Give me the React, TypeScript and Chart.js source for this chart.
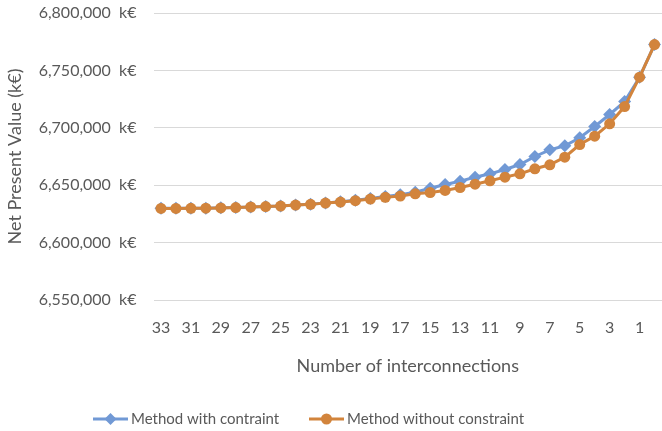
import React, { useEffect, useRef } from "react";
import { Chart, registerables } from "chart.js";

Chart.register(...registerables);

const categories = [
  "33", "32", "31", "30", "29", "28", "27", "26", "25", "24", "23", "22",
  "21", "20", "19", "18", "17", "16", "15", "14", "13", "12", "11", "10",
  "9", "8", "7", "6", "5", "4", "3", "2", "1", "0",
];

const withConstraint = [
  6630000, 6630000, 6630000, 6630000, 6630300, 6630600, 6631100, 6631500,
  6631900, 6632800, 6633500, 6634600, 6635600, 6636900, 6638500, 6640100,
  6641700, 6643900, 6647400, 6650600, 6653500, 6657000, 6659900, 6663700,
  6668000, 6675000, 6680800, 6684300, 6691300, 6701100, 6711600, 6722900,
  6744100, 6772500,
];

const withoutConstraint = [
  6629800, 6629800, 6629900, 6630000, 6630200, 6630500, 6631000, 6631400,
  6631800, 6632700, 6633300, 6634400, 6635300, 6636500, 6637900, 6639400,
  6640500, 6642500, 6643600, 6645400, 6648000, 6650900, 6653800, 6657000,
  6659900, 6664300, 6667800, 6674400, 6685400, 6692700, 6703500, 6718500,
  6744100, 6772500,
];

const seriesNames = ["Method with contraint", "Method without constraint"];
const yTitle = "Net Present Value (k\u20ac)";
const xTitle = "Number of interconnections";

const BLUE = "#7199D5";
const ORANGE = "#D2843C";
const TEXT = "#595959";
const FONT = "Lato, sans-serif";

const legendPlugin = {
  id: "customLegend",
  afterDraw(chart: any) {
    const ctx = chart.ctx;
    const y = 419;
    const items = [
      { x: 93, color: BLUE, style: "diamond", text: seriesNames[0] },
      { x: 309, color: ORANGE, style: "circle", text: seriesNames[1] },
    ];
    ctx.save();
    for (const it of items) {
      ctx.strokeStyle = it.color;
      ctx.lineWidth = 3;
      ctx.beginPath();
      ctx.moveTo(it.x, y);
      ctx.lineTo(it.x + 35, y);
      ctx.stroke();
      ctx.fillStyle = it.color;
      const cx = it.x + 17.5;
      ctx.beginPath();
      if (it.style === "circle") {
        ctx.arc(cx, y, 5.5, 0, Math.PI * 2);
      } else {
        ctx.moveTo(cx, y - 6);
        ctx.lineTo(cx + 6, y);
        ctx.lineTo(cx, y + 6);
        ctx.lineTo(cx - 6, y);
        ctx.closePath();
      }
      ctx.fill();
      ctx.fillStyle = TEXT;
      ctx.font = `15px ${FONT}`;
      ctx.textBaseline = "middle";
      ctx.textAlign = "left";
      ctx.fillText(it.text, it.x + 38, y);
    }
    ctx.restore();
  },
};

export default function App() {
  const ref = useRef<HTMLCanvasElement>(null);

  useEffect(() => {
    if (!ref.current) return;
    const chart = new Chart(ref.current, {
      type: "line",
      data: {
        labels: categories,
        datasets: [
          {
            label: seriesNames[0],
            data: withConstraint,
            borderColor: BLUE,
            backgroundColor: BLUE,
            borderWidth: 3,
            pointStyle: "rectRot",
            pointRadius: 6.5,
            pointBorderWidth: 0,
            pointBackgroundColor: BLUE,
            order: 2,
            tension: 0,
            clip: false,
          },
          {
            label: seriesNames[1],
            data: withoutConstraint,
            borderColor: ORANGE,
            backgroundColor: ORANGE,
            borderWidth: 3,
            pointStyle: "circle",
            pointRadius: 5.5,
            pointBorderWidth: 0,
            pointBackgroundColor: ORANGE,
            order: 1,
            tension: 0,
            clip: false,
          },
        ],
      },
      options: {
        responsive: false,
        animation: false,
        devicePixelRatio: 1,
        layout: {
          autoPadding: false,
          padding: { top: 13, left: 0, right: 0, bottom: 0 },
        },
        plugins: {
          legend: { display: false },
          tooltip: { enabled: false },
        },
        scales: {
          x: {
            type: "category",
            offset: true,
            grid: { display: false },
            border: { display: false },
            afterFit: (s: any) => {
              s.height = 131;
              s.paddingLeft = 0;
              s.paddingRight = 0;
            },
            ticks: {
              autoSkip: false,
              maxRotation: 0,
              minRotation: 0,
              padding: 10,
              color: TEXT,
              font: { family: FONT, size: 16 },
              callback: (_v: any, i: number) =>
                i % 2 === 0 ? categories[i] : "",
            },
            title: {
              display: true,
              text: xTitle,
              color: TEXT,
              font: { family: FONT, size: 18 },
              padding: { top: 0, bottom: 54 },
            },
          },
          y: {
            min: 6550000,
            max: 6800000,
            grid: { color: "#D9D9D9", lineWidth: 1, drawTicks: false },
            border: { display: false },
            afterFit: (s: any) => {
              s.width = 153.5;
              s.paddingTop = 0;
              s.paddingBottom = 0;
            },
            ticks: {
              stepSize: 50000,
              padding: 17,
              color: TEXT,
              font: { family: FONT, size: 16 },
              callback: (v: any) =>
                Number(v).toLocaleString("en-US") + "  k\u20ac",
            },
            title: {
              display: true,
              text: yTitle,
              color: TEXT,
              font: { family: FONT, size: 18 },
              padding: { top: 4, bottom: 0 },
            },
          },
        },
      },
      plugins: [legendPlugin],
    } as any);
    return () => chart.destroy();
  }, []);

  return (
    <div style={{ position: "absolute", left: 0, top: 0, width: 662, height: 431 }}>
      <canvas ref={ref} width={662} height={431} style={{ display: "block" }} />
    </div>
  );
}
